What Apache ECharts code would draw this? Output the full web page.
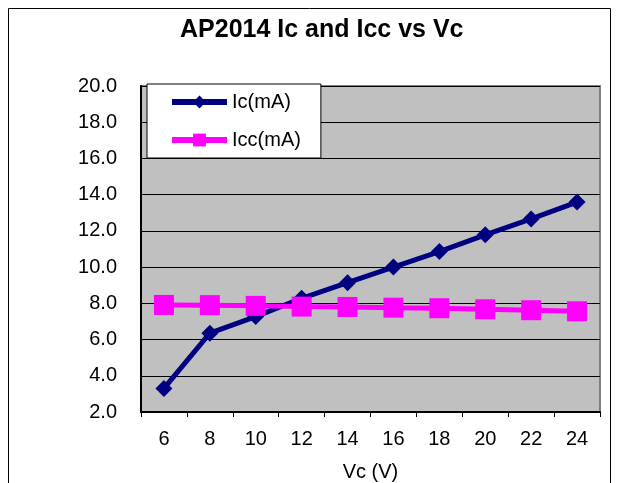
<!DOCTYPE html>
<html><head><meta charset="utf-8">
<script src="https://cdn.jsdelivr.net/npm/echarts@6/dist/echarts.min.js"></script>
<style>html,body{margin:0;padding:0;background:#fff}#c{width:617px;height:483px}</style>
</head><body><div id="c"></div>
<script>
const categories = ['6','8','10','12','14','16','18','20','22','24'];
const icValues = [3.3, 6.35, 7.27, 8.28, 9.14, 10.0, 10.86, 11.78, 12.66, 13.59];
const iccValues = [7.91, 7.9, 7.86, 7.82, 7.8, 7.76, 7.73, 7.67, 7.62, 7.56];
const yTicks = {min: 2, max: 20, interval: 2};

const chart = echarts.init(document.getElementById('c'));
const font = 'Liberation Sans, Arial, sans-serif';
chart.setOption({
  animation: false,
  title: {text: 'AP2014 Ic and Icc vs Vc', left: 180, top: 18, padding: 0,
    textStyle: {fontFamily: font, fontSize: 25, fontWeight: 'bold', color: '#000'}},
  graphic: [{type: 'rect', shape: {x: 8.5, y: 8.5, width: 602, height: 490},
    style: {fill: 'none', stroke: '#000', lineWidth: 1}, z: -10}],
  grid: {left: 141, right: 17, top: 86, bottom: 71, show: true, outerBoundsMode: 'none', containLabel: false,
    backgroundColor: '#C0C0C0', borderColor: '#808080', borderWidth: 2},
  legend: {left: 147, top: 84, orient: 'vertical', itemGap: 18, itemWidth: 55, itemHeight: 16,
    padding: [8, 20, 8, 22],
    backgroundColor: '#fff', borderColor: '#000', borderWidth: 1,
    lineStyle: {width: 6},
    textStyle: {fontFamily: font, fontSize: 20, color: '#000'},
    data: ['Ic(mA)', 'Icc(mA)']},
  xAxis: {type: 'category', data: categories, boundaryGap: true,
    name: 'Vc (V)', nameLocation: 'middle', nameGap: 50,
    nameTextStyle: {fontFamily: font, fontSize: 20, color: '#000'},
    axisLine: {lineStyle: {color: '#000', width: 2}},
    axisTick: {show: true, length: 5, lineStyle: {color: '#000'}},
    axisLabel: {fontFamily: font, fontSize: 20, color: '#000', margin: 17}},
  yAxis: {type: 'value', min: yTicks.min, max: yTicks.max, interval: yTicks.interval,
    axisLine: {show: true, lineStyle: {color: '#000', width: 2}},
    axisTick: {show: true, length: 4, inside: true, lineStyle: {color: '#000'}},
    splitLine: {lineStyle: {color: '#000', width: 1}},
    axisLabel: {fontFamily: font, fontSize: 20, color: '#000', margin: 24,
      formatter: v => v.toFixed(1)}},
  series: [
    {name: 'Ic(mA)', type: 'line', data: icValues, z: 3,
      lineStyle: {color: '#000080', width: 5}, itemStyle: {color: '#000080'},
      symbol: 'diamond', symbolSize: 17},
    {name: 'Icc(mA)', type: 'line', data: iccValues, z: 4,
      lineStyle: {color: '#FF00FF', width: 5}, itemStyle: {color: '#FF00FF'},
      symbol: 'rect', symbolSize: 20}
  ]
});
</script></body></html>
